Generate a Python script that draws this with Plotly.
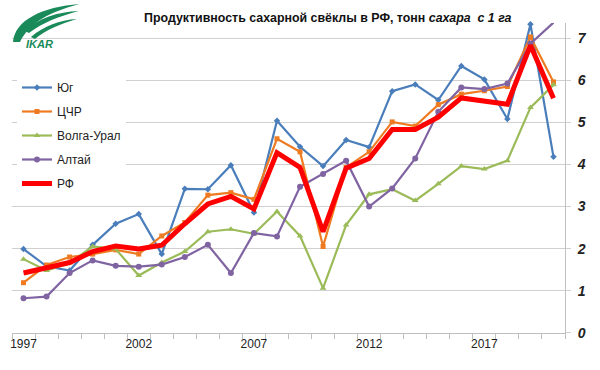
import plotly.graph_objects as go

years = list(range(1997, 2021))

yug = [1.99, 1.58, 1.48, 2.09, 2.59, 2.82, 1.87, 3.42, 3.41, 3.98, 2.86, 5.04, 4.42, 3.96,
       4.58, 4.41, 5.74, 5.90, 5.53, 6.34, 6.02, 5.08, 7.33, 4.18]
cchr = [1.19, 1.61, 1.80, 1.87, 1.97, 1.87, 2.30, 2.62, 3.27, 3.33, 3.17, 4.61, 4.30, 2.05,
        3.93, 4.30, 5.01, 4.91, 5.42, 5.67, 5.75, 5.85, 7.03, 5.96]
volga = [1.75, 1.48, 1.66, 2.05, 1.99, 1.36, 1.67, 1.93, 2.40, 2.46, 2.35, 2.88, 2.30, 1.06,
         2.56, 3.29, 3.41, 3.14, 3.54, 3.96, 3.89, 4.09, 5.35, 5.89]
altai = [0.82, 0.86, 1.42, 1.72, 1.59, 1.57, 1.62, 1.80, 2.09, 1.42, 2.37, 2.29, 3.47, 3.77,
         4.09, 3.00, 3.43, 4.14, 5.25, 5.83, 5.79, 5.92, 6.87, 7.37]
rf = [1.42, 1.55, 1.67, 1.93, 2.06, 1.99, 2.08, 2.59, 3.06, 3.24, 2.94, 4.28, 3.93, 2.40,
      3.91, 4.14, 4.83, 4.83, 5.12, 5.58, 5.51, 5.43, 6.83, 5.57]

x_labels = [1997, 2002, 2007, 2012, 2017]
y_ticks = [0, 1, 2, 3, 4, 5, 6, 7]

W, H = 600, 370
L, R, T, B = 10, 35, 23, 37
PW, PH = W - L - R, H - T - B

def px(xp):
    return (xp - L) / PW

def py(yp):
    return (H - B - yp) / PH

FONT = "Liberation Sans"
GRID = "#D0D0D0"

fig = go.Figure()

series = [
    ("Юг", yug, "#4A7EBB", "diamond", 5),
    ("ЦЧР", cchr, "#EE7B22", "square", 5),
    ("Волга-Урал", volga, "#9BBB59", "triangle-up", 6),
    ("Алтай", altai, "#8064A2", "circle", 6),
]
for i, (name, vals, col, sym, ms) in enumerate(series):
    fig.add_trace(go.Scatter(
        x=years, y=vals, name=name, mode="lines+markers",
        line=dict(color=col, width=2.2),
        marker=dict(symbol=sym, size=ms, color=col),
        legendgroup=f"g{i}", cliponaxis=False,
    ))
fig.add_trace(go.Scatter(
    x=years, y=rf, name="РФ", mode="lines",
    line=dict(color="#FF0000", width=5),
    legendgroup="g5", cliponaxis=False,
))

fig.update_layout(
    width=W, height=H,
    margin=dict(l=L, r=R, t=T, b=B, pad=0),
    paper_bgcolor="white", plot_bgcolor="white",
    font=dict(family=FONT, size=12, color="#222222"),
    showlegend=True,
    legend=dict(
        x=px(15), y=py(73), xanchor="left", yanchor="top",
        bgcolor="white", borderwidth=0,
        font=dict(family=FONT, size=12, color="#222222"),
        tracegroupgap=5, itemwidth=30,
    ),
    xaxis=dict(
        range=[1996.5, 2020.5],
        tickmode="array", tickvals=x_labels, ticktext=[str(v) for v in x_labels],
        ticks="", showgrid=False, zeroline=False,
        showline=True, linecolor="#BFBFBF", linewidth=1,
        tickfont=dict(family=FONT, size=12, color="#222222"),
        minor=dict(tick0=1996.5, dtick=1, ticks="outside", ticklen=5,
                   tickcolor="#BFBFBF", showgrid=False),
    ),
    yaxis=dict(
        side="right", range=[-0.005, 7.36],
        tickmode="array", tickvals=y_ticks,
        showgrid=True, gridcolor=GRID, gridwidth=1.3,
        zeroline=False, showline=True, linecolor="#BFBFBF", linewidth=1,
        ticks="outside", ticklen=5, tickcolor=GRID,
        ticklabelstandoff=4,
        tickfont=dict(family=FONT, size=14, color="#222222", weight="bold", style="italic"),
    ),
)

fig.add_annotation(
    x=px(327), y=py(18), xref="paper", yref="paper",
    text="<b>Продуктивность сахарной свёклы в РФ, тонн <i>сахара  с 1 га</i></b>",
    showarrow=False, xanchor="center", yanchor="middle",
    font=dict(family=FONT, size=12.4, color="#111111"),
)

# IKAR logo (approximate)
green = "#1B8A5A"
def path(pts):
    s = ""
    for cmd, coords in pts:
        s += cmd + " " + " ".join(f"{px(a):.4f},{py(b):.4f}" for a, b in coords) + " "
    return s + "Z"

fig.add_shape(type="path", xref="paper", yref="paper", fillcolor=green, line=dict(width=0),
              path=path([("M", [(11, 42)]), ("C", [(13, 20), (40, 7), (78, 4)]),
                         ("C", [(48, 12), (28, 22), (18, 42)])]))
fig.add_shape(type="path", xref="paper", yref="paper", fillcolor=green, line=dict(width=0),
              path=path([("M", [(23, 31)]), ("C", [(36, 18), (56, 12), (77, 11)]),
                         ("C", [(58, 16), (40, 23), (27, 33)])]))
fig.add_shape(type="path", xref="paper", yref="paper", fillcolor=green, line=dict(width=0),
              path=path([("M", [(29, 37)]), ("C", [(42, 26), (58, 20), (75, 19)]),
                         ("C", [(58, 24), (44, 30), (33, 39)])]))
fig.add_annotation(
    x=px(38), y=py(44), xref="paper", yref="paper", text="<b><i>IKAR</i></b>",
    showarrow=False, xanchor="center", yanchor="middle",
    font=dict(family=FONT, size=11, color=green),
)

fig.write_html("out.html", config={"displayModeBar": False},
               post_script="document.body.style.margin='0';")
